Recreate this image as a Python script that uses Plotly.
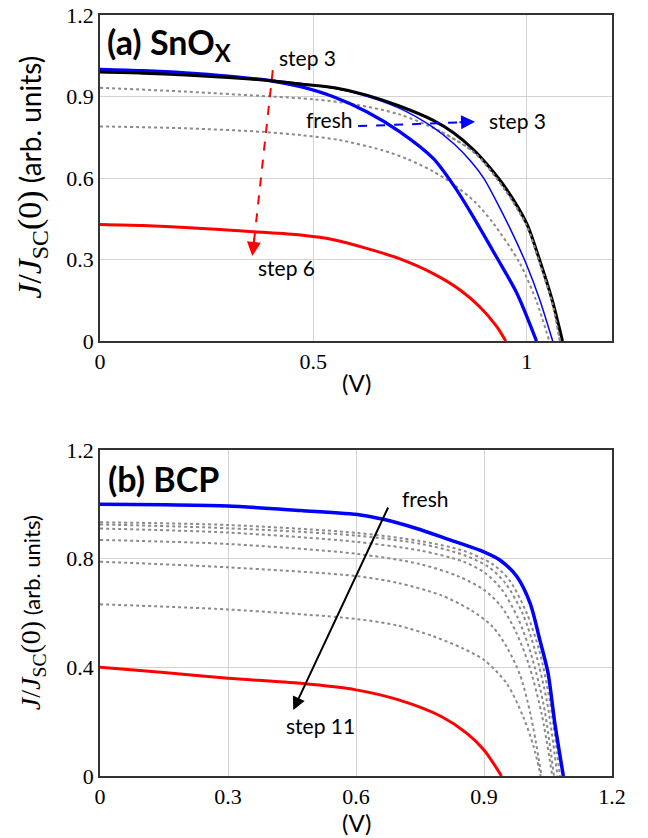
import plotly.graph_objects as go

# ---------------- Panel (a) SnOx data ----------------
a_black_v = [0, 0.1, 0.2, 0.3, 0.4, 0.47, 0.55, 0.625, 0.7, 0.78, 0.83, 0.875, 0.91, 0.95, 1.0, 1.03, 1.06, 1.084]
a_black_j = [0.99, 0.986, 0.979, 0.97, 0.958, 0.946, 0.932, 0.905, 0.866, 0.813, 0.765, 0.705, 0.645, 0.565, 0.433, 0.30, 0.15, 0]

a_blue_thick_v = [0, 0.1, 0.2, 0.3, 0.4, 0.47, 0.547, 0.625, 0.703, 0.781, 0.83, 0.87, 0.929, 0.977, 1.023]
a_blue_thick_j = [1.0, 0.995, 0.987, 0.975, 0.958, 0.936, 0.899, 0.844, 0.77, 0.672, 0.57, 0.47, 0.31, 0.176, 0]

a_blue_thin_v = [0, 0.2, 0.4, 0.5, 0.6, 0.7, 0.78, 0.83, 0.87, 0.9, 0.937, 0.97, 1.0, 1.03, 1.061]
a_blue_thin_j = [0.995, 0.984, 0.96, 0.942, 0.912, 0.858, 0.787, 0.725, 0.66, 0.598, 0.49, 0.385, 0.28, 0.155, 0]

a_gray1_v = [0, 0.2, 0.4, 0.5, 0.6, 0.7, 0.8, 0.88, 0.95, 1.0, 1.03, 1.06, 1.078]
a_gray1_j = [0.932, 0.918, 0.9, 0.89, 0.87, 0.835, 0.77, 0.69, 0.555, 0.425, 0.29, 0.14, 0]

a_gray2_v = [0, 0.2, 0.38, 0.47, 0.56, 0.66, 0.72, 0.78, 0.83, 0.88, 0.922, 0.984, 1.023, 1.053]
a_gray2_j = [0.79, 0.783, 0.77, 0.758, 0.74, 0.703, 0.67, 0.625, 0.575, 0.51, 0.433, 0.286, 0.146, 0]

a_red_v = [0, 0.1, 0.2, 0.36, 0.47, 0.55, 0.625, 0.7, 0.78, 0.844, 0.89, 0.93, 0.951]
a_red_j = [0.429, 0.425, 0.418, 0.402, 0.39, 0.372, 0.341, 0.304, 0.249, 0.188, 0.126, 0.053, 0]

# ---------------- Panel (b) BCP data ----------------
b_blue_v = [0, 0.15, 0.3, 0.47, 0.61, 0.664, 0.742, 0.82, 0.898, 0.937, 0.977, 1.008, 1.031, 1.05, 1.066, 1.086]
b_blue_j = [1.0, 0.998, 0.994, 0.977, 0.961, 0.945, 0.911, 0.869, 0.826, 0.795, 0.734, 0.636, 0.50, 0.38, 0.194, 0]

b_red_v = [0, 0.15, 0.3, 0.47, 0.6, 0.7, 0.8, 0.86, 0.9, 0.941]
b_red_j = [0.40, 0.381, 0.36, 0.341, 0.317, 0.28, 0.219, 0.157, 0.096, 0]

b_gray_v = [
    [0, 0.3, 0.6, 0.75, 0.85, 0.92, 0.96, 1.0, 1.03, 1.055, 1.078],
    [0, 0.3, 0.6, 0.75, 0.85, 0.91, 0.95, 0.99, 1.02, 1.048, 1.072],
    [0, 0.3, 0.6, 0.75, 0.85, 0.9, 0.94, 0.98, 1.01, 1.04, 1.064],
    [0, 0.3, 0.6, 0.75, 0.84, 0.9, 0.94, 0.975, 1.005, 1.035, 1.06],
    [0, 0.3, 0.6, 0.7, 0.8, 0.87, 0.92, 0.955, 0.985, 1.01, 1.035],
    [0, 0.3, 0.6, 0.7, 0.78, 0.85, 0.9, 0.953, 0.992, 1.016, 1.033],
]
b_gray_j = [
    [0.934, 0.924, 0.895, 0.865, 0.83, 0.78, 0.72, 0.60, 0.46, 0.27, 0],
    [0.926, 0.912, 0.885, 0.855, 0.815, 0.77, 0.71, 0.60, 0.46, 0.27, 0],
    [0.911, 0.896, 0.862, 0.83, 0.79, 0.75, 0.69, 0.58, 0.45, 0.26, 0],
    [0.869, 0.854, 0.818, 0.78, 0.735, 0.685, 0.625, 0.53, 0.41, 0.23, 0],
    [0.789, 0.768, 0.736, 0.71, 0.665, 0.61, 0.55, 0.47, 0.37, 0.22, 0],
    [0.632, 0.613, 0.578, 0.553, 0.515, 0.47, 0.427, 0.341, 0.218, 0.11, 0],
]

# tick labels
a_xticks = [0, 0.5, 1]
a_xticklabels = ["0", "0.5", "1"]
a_yticks = [0, 0.3, 0.6, 0.9, 1.2]
a_yticklabels = ["0", "0.3", "0.6", "0.9", "1.2"]
b_xticks = [0, 0.3, 0.6, 0.9, 1.2]
b_xticklabels = ["0", "0.3", "0.6", "0.9", "1.2"]
b_yticks = [0, 0.4, 0.8, 1.2]
b_yticklabels = ["0", "0.4", "0.8", "1.2"]

GRAY = "#8a8a8a"
BLUE = "#0000ff"
RED = "#ff0000"
SANS = "Lato"
SERIF = "Liberation Serif"

fig = go.Figure()

def line(x, y, color, width, dash="solid", xa="x", ya="y"):
    fig.add_trace(go.Scatter(x=x, y=y, mode="lines", xaxis=xa, yaxis=ya,
                             line=dict(color=color, width=width, dash=dash, shape="spline", smoothing=0.8),
                             showlegend=False, hoverinfo="skip"))

# panel a
line(a_gray2_v, a_gray2_j, GRAY, 2, "dot")
line(a_gray1_v, a_gray1_j, GRAY, 2, "dot")
line(a_red_v, a_red_j, RED, 3)
line(a_blue_thick_v, a_blue_thick_j, BLUE, 3.3)
line(a_blue_thin_v, a_blue_thin_j, BLUE, 1.5)
line(a_black_v, a_black_j, "black", 3)
line(a_gray1_v[6:], a_gray1_j[6:], GRAY, 2, "dot")

# panel b
for gv, gj in zip(b_gray_v, b_gray_j):
    line(gv, gj, GRAY, 2, "dot", "x2", "y2")
line(b_red_v, b_red_j, RED, 3, "solid", "x2", "y2")
line(b_blue_v, b_blue_j, BLUE, 3.5, "solid", "x2", "y2")

# dashed arrow shafts (panel a)
red_arrow = dict(x0=0.405, y0=0.997, x1=0.357, y1=0.313)
blue_arrow = dict(x0=0.605, y0=0.791, x1=0.879, y1=0.807)
fig.add_trace(go.Scatter(x=[red_arrow["x0"], red_arrow["x1"] + 0.003], y=[red_arrow["y0"], red_arrow["y1"] + 0.04],
                         mode="lines", line=dict(color=RED, width=2, dash="dash"),
                         showlegend=False, hoverinfo="skip"))
fig.add_trace(go.Scatter(x=[blue_arrow["x0"], blue_arrow["x1"] - 0.03], y=[blue_arrow["y0"], blue_arrow["y1"] - 0.002],
                         mode="lines", line=dict(color=BLUE, width=2, dash="dash"),
                         showlegend=False, hoverinfo="skip"))

ann = []
# arrowheads
ann.append(dict(x=red_arrow["x1"], y=red_arrow["y1"], ax=red_arrow["x1"] + 0.005, ay=red_arrow["y1"] + 0.07,
                xref="x", yref="y", axref="x", ayref="y", text="", showarrow=True,
                arrowhead=2, arrowsize=1.4, arrowwidth=2, arrowcolor=RED))
ann.append(dict(x=blue_arrow["x1"], y=blue_arrow["y1"], ax=blue_arrow["x1"] - 0.04, ay=blue_arrow["y1"] - 0.002,
                xref="x", yref="y", axref="x", ayref="y", text="", showarrow=True,
                arrowhead=2, arrowsize=1.4, arrowwidth=2, arrowcolor=BLUE))
# black arrow panel b
ann.append(dict(x=0.453, y=0.243, ax=0.677, ay=0.994,
                xref="x2", yref="y2", axref="x2", ayref="y2", text="", showarrow=True,
                arrowhead=2, arrowsize=1.3, arrowwidth=2, arrowcolor="black"))

txt = dict(showarrow=False, xanchor="center", yanchor="middle", font=dict(family=SANS, size=21, color="black"))
ann.append(dict(x=0.486, y=1.045, xref="x", yref="y", text="step 3", **txt))
ann.append(dict(x=0.437, y=0.272, xref="x", yref="y", text="step 6", **txt))
ann.append(dict(x=0.537, y=0.816, xref="x", yref="y", text="fresh", **txt))
ann.append(dict(x=0.978, y=0.812, xref="x", yref="y", text="step 3", **txt))
ann.append(dict(x=0.762, y=1.022, xref="x2", yref="y2", text="fresh", **txt))
ann.append(dict(x=0.517, y=0.186, xref="x2", yref="y2", text="step 11", **txt))

# panel titles
ann.append(dict(x=0.012, y=1.095, xref="x", yref="y", xanchor="left", yanchor="middle",
                text="<b>(a) SnO<sub>X</sub></b>", showarrow=False,
                font=dict(family=SANS, size=34, color="black")))
ann.append(dict(x=0.014, y=1.095, xref="x2", yref="y2", xanchor="left", yanchor="middle",
                text="<b>(b) BCP</b>", showarrow=False,
                font=dict(family=SANS, size=34, color="black")))

# x titles
for yy in [0.5177, -0.0617]:
    ann.append(dict(x=0.5, y=yy, xref="paper", yref="paper", xanchor="center", yanchor="middle",
                    text="(V)", showarrow=False, font=dict(family=SANS, size=24, color="black")))

# y titles
def ytitle(serif_size):
    return ("<span style='font-family:Liberation Serif;font-size:%dpx'><i>J</i>/<i>J</i>"
            "<sub>SC</sub>(0)</span> (arb. units)" % serif_size)

ann.append(dict(x=-0.1328, y=0.786, xref="paper", yref="paper", xanchor="center", yanchor="middle",
                text=ytitle(34), showarrow=False, textangle=-90,
                font=dict(family=SANS, size=28, color="black")))
ann.append(dict(x=-0.1328, y=0.214, xref="paper", yref="paper", xanchor="center", yanchor="middle",
                text=ytitle(28), showarrow=False, textangle=-90,
                font=dict(family=SANS, size=22, color="black")))

axis_common = dict(showgrid=True, gridcolor="#d3d3d3", gridwidth=1, zeroline=False, automargin=False,
                   showline=True, linecolor="#333333", linewidth=1.5, mirror=True, ticks="",
                   tickfont=dict(family=SERIF, size=22, color="black"))

top_b = 0.5716
bot_t = 0.4284
fig.update_layout(
    width=648, height=838,
    margin=dict(l=100, r=36, t=15, b=62),
    paper_bgcolor="white", plot_bgcolor="white",
    xaxis=dict(domain=[0, 1], range=[0, 1.2], tickvals=a_xticks, ticktext=a_xticklabels, anchor="y", **axis_common),
    yaxis=dict(domain=[top_b, 1], range=[0, 1.2], tickvals=a_yticks, ticktext=a_yticklabels, anchor="x", **axis_common),
    xaxis2=dict(domain=[0, 1], range=[0, 1.2], tickvals=b_xticks, ticktext=b_xticklabels, anchor="y2", **axis_common),
    yaxis2=dict(domain=[0, bot_t], range=[0, 1.2], tickvals=b_yticks, ticktext=b_yticklabels, anchor="x2", **axis_common),
    annotations=ann,
)

fig.write_html("out.html")
